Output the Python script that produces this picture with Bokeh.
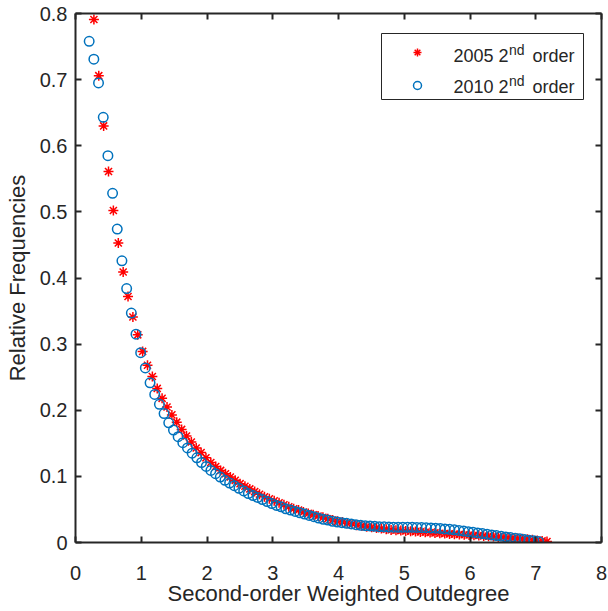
from bokeh.plotting import figure
from bokeh.models import (LinearAxis, FixedTicker, Range1d, Label, Legend,
                          LegendItem, BoxAnnotation)
from bokeh.embed import file_html
from bokeh.resources import INLINE

# ---------------- data ----------------
x_2005 = [0.280, 0.354, 0.428, 0.502, 0.576, 0.651, 0.725, 0.799, 0.873, 0.947,
          1.021, 1.095, 1.169, 1.243, 1.317, 1.392, 1.466, 1.540, 1.614, 1.688,
          1.762, 1.836, 1.910, 1.984, 2.058, 2.133, 2.207, 2.281, 2.355, 2.429,
          2.503, 2.577, 2.651, 2.725, 2.799, 2.874, 2.948, 3.022, 3.096, 3.170,
          3.244, 3.318, 3.392, 3.466, 3.540, 3.615, 3.689, 3.763, 3.837, 3.911,
          3.985, 4.059, 4.133, 4.207, 4.281, 4.356, 4.430, 4.504, 4.578, 4.652,
          4.726, 4.800, 4.874, 4.948, 5.022, 5.097, 5.171, 5.245, 5.319, 5.393,
          5.467, 5.541, 5.615, 5.689, 5.763, 5.838, 5.912, 5.986, 6.060, 6.134,
          6.208, 6.282, 6.356, 6.430, 6.504, 6.579, 6.653, 6.727, 6.801, 6.875,
          6.949, 7.023, 7.097, 7.171]
y_2005 = [0.791, 0.706, 0.630, 0.561, 0.502, 0.453, 0.409, 0.372, 0.341, 0.314,
          0.289, 0.268, 0.251, 0.233, 0.218, 0.205, 0.193, 0.182, 0.171, 0.161,
          0.152, 0.143, 0.136, 0.128, 0.121, 0.115, 0.109, 0.104, 0.099, 0.094,
          0.089, 0.085, 0.081, 0.077, 0.073, 0.069, 0.066, 0.063, 0.060, 0.057,
          0.054, 0.051, 0.049, 0.046, 0.044, 0.042, 0.040, 0.038, 0.036, 0.034,
          0.032, 0.031, 0.029, 0.028, 0.026, 0.025, 0.024, 0.023, 0.022, 0.021,
          0.020, 0.019, 0.0185, 0.018, 0.0175, 0.017, 0.0165, 0.016, 0.0155, 0.015,
          0.0145, 0.014, 0.0135, 0.013, 0.0126, 0.0122, 0.0118, 0.0114, 0.011, 0.0105,
          0.010, 0.0095, 0.009, 0.0085, 0.008, 0.0074, 0.0068, 0.0062, 0.0055, 0.0048,
          0.0040, 0.0032, 0.0024, 0.0016]

x_2010 = [0.208, 0.279, 0.350, 0.422, 0.493, 0.564, 0.635, 0.706, 0.778, 0.849,
          0.920, 0.991, 1.062, 1.134, 1.205, 1.276, 1.347, 1.418, 1.490, 1.561,
          1.632, 1.703, 1.774, 1.846, 1.917, 1.988, 2.059, 2.130, 2.202, 2.273,
          2.344, 2.415, 2.486, 2.558, 2.629, 2.700, 2.771, 2.842, 2.914, 2.985,
          3.056, 3.127, 3.198, 3.270, 3.341, 3.412, 3.483, 3.554, 3.626, 3.697,
          3.768, 3.839, 3.910, 3.982, 4.053, 4.124, 4.195, 4.266, 4.338, 4.409,
          4.480, 4.551, 4.622, 4.694, 4.765, 4.836, 4.907, 4.978, 5.050, 5.121,
          5.192, 5.263, 5.334, 5.406, 5.477, 5.548, 5.619, 5.690, 5.762, 5.833,
          5.904, 5.975, 6.046, 6.118, 6.189, 6.260, 6.331, 6.402, 6.474, 6.545,
          6.616, 6.687, 6.758, 6.830, 6.901, 6.972, 7.043]
y_2010 = [0.758, 0.731, 0.695, 0.643, 0.585, 0.528, 0.474, 0.426, 0.384, 0.347,
          0.315, 0.287, 0.264, 0.2415, 0.224, 0.209, 0.195, 0.181, 0.170, 0.160,
          0.151, 0.143, 0.135, 0.128, 0.121, 0.115, 0.109, 0.104, 0.099, 0.094,
          0.090, 0.086, 0.082, 0.078, 0.074, 0.071, 0.068, 0.065, 0.062, 0.059,
          0.056, 0.054, 0.051, 0.049, 0.047, 0.045, 0.043, 0.041, 0.039, 0.037,
          0.035, 0.034, 0.032, 0.031, 0.030, 0.029, 0.028, 0.027, 0.026, 0.0255,
          0.025, 0.0245, 0.024, 0.0237, 0.0234, 0.0232, 0.023, 0.023, 0.023, 0.023,
          0.0228, 0.0226, 0.0224, 0.0221, 0.0217, 0.0212, 0.0206, 0.0199, 0.0191, 0.0182,
          0.0173, 0.0164, 0.0155, 0.0145, 0.0135, 0.0125, 0.0115, 0.0105, 0.0095, 0.0085,
          0.0075, 0.0065, 0.0055, 0.0045, 0.0035, 0.0025, 0.0015]

x_ticks = [0, 1, 2, 3, 4, 5, 6, 7, 8]
y_ticks = [0, 0.1, 0.2, 0.3, 0.4, 0.5, 0.6, 0.7, 0.8]
y_tick_labels = ["0", "0.1", "0.2", "0.3", "0.4", "0.5", "0.6", "0.7", "0.8"]
series_years = ["2005", "2010"]
x_title = "Second-order Weighted Outdegree"
y_title = "Relative Frequencies"

# ---------------- styling ----------------
FONT = "Liberation Sans"
AX = "#262626"
RED = "#FF0000"
BLUE = "#0072BD"

p = figure(width=608, height=611, output_backend="svg", toolbar_location=None,
           x_range=Range1d(0, 8), y_range=Range1d(0, 0.8),
           min_border_left=75, min_border_right=7, min_border_top=13,
           min_border_bottom=69)
p.xgrid.visible = False
p.ygrid.visible = False
p.outline_line_color = None
p.background_fill_color = "white"
p.border_fill_color = "white"

r05 = p.scatter(x_2005, y_2005, marker="asterisk", size=10,
                line_color=RED, line_width=1.5)
r10 = p.scatter(x_2010, y_2010, marker="circle", size=9.5, fill_color=None,
                line_color=BLUE, line_width=1.5)


def style_axis(ax, ticks):
    ax.ticker = FixedTicker(ticks=ticks)
    ax.axis_line_color = AX
    ax.axis_line_width = 2
    ax.major_tick_line_color = AX
    ax.major_tick_line_width = 2
    ax.major_tick_in = 6
    ax.major_tick_out = 0
    ax.minor_tick_line_color = None
    ax.major_label_text_font = FONT
    ax.major_label_text_font_size = "20px"
    ax.major_label_text_color = AX


xa = p.xaxis[0]
ya = p.yaxis[0]
style_axis(xa, x_ticks)
style_axis(ya, y_ticks)
ya.major_label_overrides = {t: s for t, s in zip(y_ticks, y_tick_labels)}
xa.major_label_standoff = 23
ya.major_label_standoff = 8
for ax, title in ((xa, x_title), (ya, y_title)):
    ax.axis_label = title
    ax.axis_label_text_font = FONT
    ax.axis_label_text_font_size = "22px"
    ax.axis_label_text_font_style = "normal"
    ax.axis_label_text_color = AX
xa.axis_label_standoff = -2
ya.axis_label_standoff = 7

for loc, ticks in (("above", x_ticks), ("right", y_ticks)):
    ax = LinearAxis()
    style_axis(ax, ticks)
    ax.major_label_text_font_size = "0px"
    ax.major_label_text_color = None
    ax.major_label_standoff = 0
    p.add_layout(ax, loc)

# ---------------- legend (box, sample markers, texts) ----------------
box = BoxAnnotation(left=306, right=508, bottom=443, top=509,
                    left_units="screen", right_units="screen",
                    bottom_units="screen", top_units="screen",
                    fill_color="white", fill_alpha=1.0,
                    line_color=AX, line_width=1, line_alpha=1.0)
p.add_layout(box)

legend = Legend(items=[LegendItem(label="", renderers=[r05]),
                       LegendItem(label="", renderers=[r10])],
                location=(332, 446), orientation="vertical",
                padding=0, margin=0, spacing=11,
                glyph_width=20, glyph_height=22, label_height=22,
                label_width=0, label_standoff=0,
                border_line_color=None, background_fill_alpha=0.0,
                label_text_font_size="1px")
p.add_layout(legend)

row_base = [487, 456]
for yr, yb in zip(series_years, row_base):
    p.add_layout(Label(x=378, y=yb, x_units="screen", y_units="screen",
                       text=yr + " 2", text_font=FONT, text_font_size="18px",
                       text_color=AX, text_baseline="alphabetic"))
    p.add_layout(Label(x=433.5, y=yb + 6, x_units="screen", y_units="screen",
                       text="nd", text_font=FONT, text_font_size="14px",
                       text_color=AX, text_baseline="alphabetic"))
    p.add_layout(Label(x=457, y=yb, x_units="screen", y_units="screen",
                       text="order", text_font=FONT, text_font_size="18px",
                       text_color=AX, text_baseline="alphabetic"))

open("out.html", "w").write(file_html(p, INLINE))
